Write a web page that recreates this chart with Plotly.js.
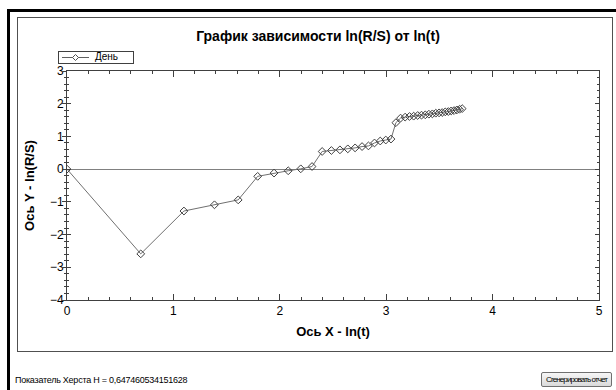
<!DOCTYPE html>
<html>
<head>
<meta charset="utf-8">
<script src="https://cdn.plot.ly/plotly-3.0.1.min.js"></script>
<style>
  html, body { margin: 0; padding: 0; background: #fff; width: 616px; height: 390px; overflow: hidden; }
  #chart { position: absolute; left: 0; top: 0; width: 616px; height: 390px; }
  .blk { position: absolute; background: #000; }
  #panel { position: absolute; left: 17px; top: 17px; width: 594px; height: 333px; border: 1px solid #505050; }
  #hurst { position: absolute; left: 15px; top: 375px; font-family: "Liberation Sans", Arial, sans-serif; font-size: 9px; color: #000;
           white-space: nowrap; letter-spacing: -0.25px; }
  #btn { position: absolute; left: 541px; top: 372px; width: 69px; height: 13px; border: 1px solid #707070; border-radius: 2px;
         background: linear-gradient(#f6f6f6, #dadada); overflow: hidden; }
  #btntxt { position: absolute; left: 0; top: 0; width: 69px; line-height: 13px; text-align: center; white-space: nowrap;
            font-family: "Liberation Sans", Arial, sans-serif; font-size: 8px; letter-spacing: -0.9px; color: #000; }
  #legend { position: absolute; left: 58px; top: 51px; width: 74px; height: 11px; border: 1px solid #404040; background: #fff; }
  #legend svg { position: absolute; left: 0; top: 0; }
  #legtxt { position: absolute; left: 36px; top: -1px; font-family: "Liberation Sans", Arial, sans-serif; font-size: 10px; line-height: 12px; color: #000; }
</style>
</head>
<body>
<div class="blk" style="left:7px;top:9px;width:609px;height:3px;"></div>
<div class="blk" style="left:7px;top:9px;width:3px;height:381px;"></div>
<div id="panel"></div>
<div id="chart"></div>
<div id="legend">
  <svg width="34" height="11"><line x1="3" y1="5.5" x2="30" y2="5.5" stroke="#606060" stroke-width="1"/>
  <path d="M16.5 2.5 L19.5 5.5 L16.5 8.5 L13.5 5.5 Z" fill="#fff" stroke="#505050" stroke-width="1"/></svg>
  <span id="legtxt"></span>
</div>
<div id="hurst">Показатель Херста H = 0,647460534151628</div>
<div id="btn"><div id="btntxt">Сгенерировать отчет</div></div>
<script>
// ln(t) values
var lnT = [0, 0.693, 1.099, 1.386, 1.609, 1.792, 1.946, 2.079, 2.197, 2.303,
           2.398, 2.485, 2.565, 2.639, 2.708, 2.773, 2.833, 2.890, 2.944, 2.996,
           3.045, 3.091, 3.135, 3.178, 3.219, 3.258, 3.296, 3.332, 3.367, 3.401,
           3.434, 3.466, 3.497, 3.526, 3.555, 3.584, 3.611, 3.638, 3.664, 3.689, 3.714];
// ln(R/S) values
var lnRS = [0, -2.59, -1.28, -1.09, -0.94, -0.22, -0.12, -0.05, 0.01, 0.08,
            0.54, 0.57, 0.59, 0.62, 0.65, 0.69, 0.71, 0.80, 0.86, 0.89,
            0.92, 1.42, 1.56, 1.59, 1.61, 1.62, 1.64, 1.65, 1.66, 1.68,
            1.69, 1.71, 1.72, 1.73, 1.75, 1.76, 1.78, 1.79, 1.81, 1.83, 1.85];
var seriesName = "День";
var chartTitle = "График зависимости ln(R/S) от ln(t)";
var xTitle = "Ось X - ln(t)";
var yTitle = "Ось Y - ln(R/S)";

document.getElementById("legtxt").textContent = seriesName;

var FONT = "Liberation Sans, Arial, sans-serif";

var traces = [{
  x: lnT, y: lnRS, type: "scatter", mode: "lines+markers", name: seriesName,
  line: { color: "#707070", width: 1 },
  marker: { symbol: "diamond-open", size: 6, color: "#404040", line: { width: 1 } }
}, {
  x: [null], y: [null], yaxis: "y2", showlegend: false, hoverinfo: "skip", type: "scatter"
}];

var layout = {
  width: 616, height: 390,
  paper_bgcolor: "rgba(0,0,0,0)", plot_bgcolor: "rgba(0,0,0,0)",
  margin: { l: 67, r: 17, t: 71, b: 90, pad: 0 },
  font: { family: FONT, size: 12, color: "#000" },
  title: { text: chartTitle, font: { family: FONT, size: 14, weight: "bold", color: "#000" },
           x: 318 / 616, xref: "container", xanchor: "center", y: 1 - 36 / 390, yanchor: "middle" },
  showlegend: false,
  xaxis: {
    range: [0, 5], dtick: 1, tick0: 0, showgrid: false, zeroline: false,
    showline: true, linecolor: "#404040", linewidth: 1, mirror: "ticks",
    ticks: "inside", ticklen: 6, tickcolor: "#404040",
    minor: { dtick: 0.2, ticks: "inside", ticklen: 3, tickcolor: "#404040", showgrid: false },
    tickfont: { family: FONT, size: 12 },
    title: { text: xTitle, font: { family: FONT, size: 13, weight: "bold" }, standoff: 9 }
  },
  yaxis: {
    range: [-4, 3], dtick: 1, tick0: 0, showgrid: false,
    zeroline: true, zerolinecolor: "#808080", zerolinewidth: 1,
    showline: true, linecolor: "#404040", linewidth: 1, mirror: "ticks",
    ticks: "inside", ticklen: 4, tickcolor: "#404040",
    minor: { dtick: 0.2, ticks: "inside", ticklen: 2, tickcolor: "#404040", showgrid: false },
    tickfont: { family: FONT, size: 12 },
    title: { text: yTitle, font: { family: FONT, size: 13, weight: "bold" }, standoff: 12 }
  },
  yaxis2: {
    overlaying: "y", side: "left", range: [-4, 3], dtick: 1, tick0: 0,
    showgrid: false, zeroline: false, showline: false, showticklabels: false,
    ticks: "outside", ticklen: 4, tickcolor: "#404040",
    minor: { dtick: 0.2, ticks: "outside", ticklen: 2, tickcolor: "#404040", showgrid: false }
  }
};

Plotly.newPlot("chart", traces, layout, { displayModeBar: false, staticPlot: true });
</script>
</body>
</html>
